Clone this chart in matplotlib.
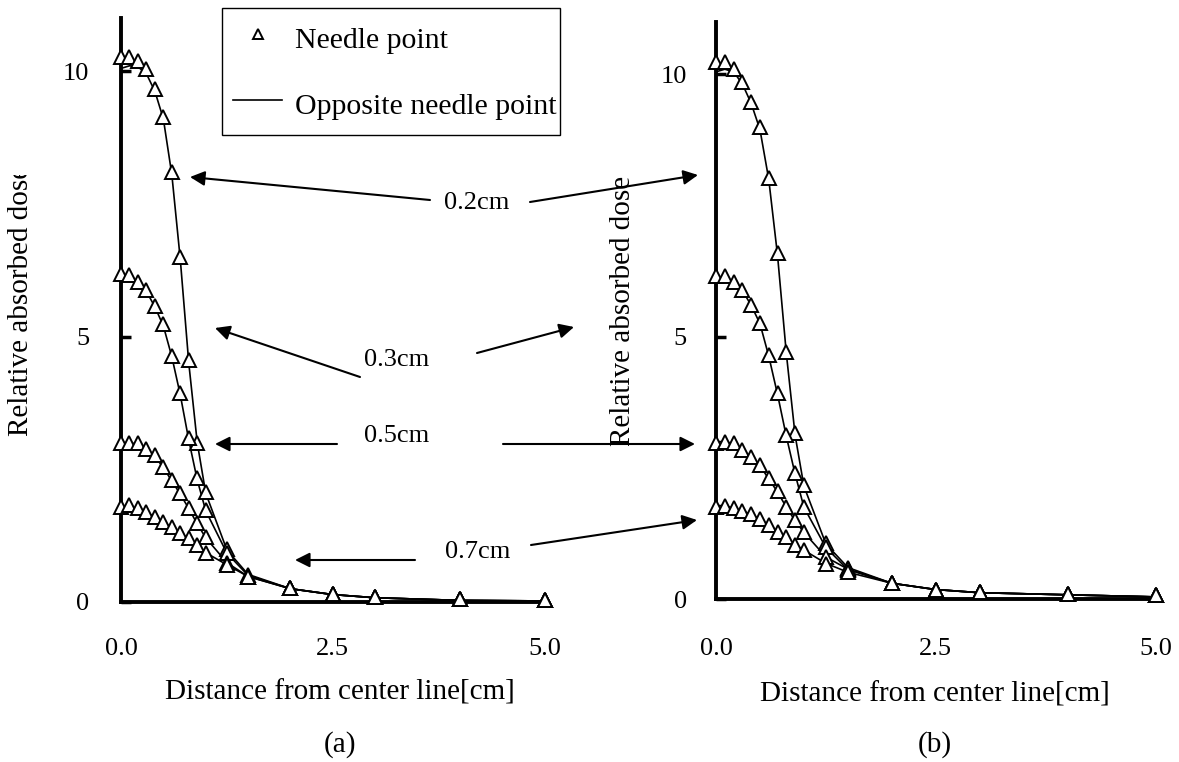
import matplotlib
matplotlib.use("Agg")
import matplotlib.pyplot as plt
from matplotlib.lines import Line2D
from matplotlib.patches import FancyArrowPatch
from matplotlib.transforms import Bbox, TransformedBbox

plt.rcParams['font.family'] = ['Liberation Serif', 'DejaVu Serif']

# ---------------- data ----------------
x = [0.0, 0.1, 0.2, 0.3, 0.4, 0.5, 0.6, 0.7, 0.8, 0.9, 1.0, 1.25, 1.5, 2.0, 2.5, 3.0, 4.0, 5.0]

# panel (a) needle point (triangles)
a_needle_02 = [10.26, 10.26, 10.19, 10.04, 9.66, 9.13, 8.09, 6.49, 4.55, 2.99, 2.07, 1.00, 0.50, 0.26, 0.15, 0.10, 0.05, 0.03]
a_needle_03 = [6.18, 6.15, 6.02, 5.87, 5.58, 5.24, 4.64, 3.93, 3.08, 2.33, 1.73, 0.92, 0.47, 0.26, 0.15, 0.10, 0.05, 0.03]
a_needle_05 = [2.99, 3.00, 2.99, 2.89, 2.76, 2.54, 2.29, 2.05, 1.77, 1.48, 1.22, 0.73, 0.47, 0.26, 0.15, 0.10, 0.05, 0.03]
a_needle_07 = [1.79, 1.82, 1.77, 1.69, 1.60, 1.50, 1.41, 1.30, 1.20, 1.07, 0.92, 0.70, 0.47, 0.26, 0.15, 0.10, 0.05, 0.03]
# panel (a) opposite needle point (lines)
a_opp_02 = [10.05, 10.10, 10.08, 9.95, 9.62, 9.10, 8.05, 6.45, 4.50, 3.00, 2.05, 0.98, 0.52, 0.25, 0.14, 0.08, 0.03, 0.02]
a_opp_03 = [6.12, 6.12, 6.00, 5.85, 5.56, 5.20, 4.62, 3.90, 3.05, 2.30, 1.72, 0.92, 0.50, 0.25, 0.14, 0.08, 0.03, 0.02]
a_opp_05 = [3.00, 3.00, 2.97, 2.88, 2.74, 2.53, 2.28, 2.03, 1.76, 1.47, 1.21, 0.74, 0.48, 0.25, 0.14, 0.08, 0.03, 0.02]
a_opp_07 = [1.80, 1.80, 1.76, 1.69, 1.60, 1.50, 1.40, 1.30, 1.19, 1.06, 0.93, 0.70, 0.48, 0.25, 0.14, 0.08, 0.03, 0.02]

# panel (b) needle point (triangles)
b_needle_02 = [10.23, 10.23, 10.10, 9.85, 9.48, 8.99, 8.03, 6.60, 4.71, 3.17, 2.18, 1.07, 0.60, 0.30, 0.17, 0.13, 0.10, 0.08]
b_needle_03 = [6.15, 6.15, 6.05, 5.90, 5.61, 5.27, 4.66, 3.93, 3.13, 2.40, 1.76, 1.00, 0.55, 0.30, 0.17, 0.13, 0.10, 0.08]
b_needle_05 = [2.98, 3.00, 2.98, 2.84, 2.71, 2.56, 2.30, 2.05, 1.76, 1.50, 1.28, 0.80, 0.58, 0.30, 0.17, 0.13, 0.10, 0.08]
b_needle_07 = [1.76, 1.78, 1.73, 1.68, 1.62, 1.53, 1.41, 1.28, 1.18, 1.03, 0.93, 0.67, 0.51, 0.30, 0.17, 0.13, 0.10, 0.08]
# panel (b) opposite needle point (lines)
b_opp_02 = [10.05, 10.10, 10.05, 9.82, 9.45, 8.95, 8.00, 6.55, 4.68, 3.12, 2.15, 1.05, 0.60, 0.30, 0.18, 0.12, 0.08, 0.04]
b_opp_03 = [6.12, 6.12, 6.03, 5.88, 5.60, 5.25, 4.63, 3.90, 3.10, 2.38, 1.75, 0.98, 0.56, 0.30, 0.18, 0.12, 0.08, 0.04]
b_opp_05 = [3.00, 3.00, 2.96, 2.84, 2.70, 2.54, 2.29, 2.04, 1.75, 1.49, 1.27, 0.80, 0.57, 0.30, 0.18, 0.12, 0.08, 0.04]
b_opp_07 = [1.78, 1.78, 1.73, 1.68, 1.61, 1.52, 1.41, 1.29, 1.17, 1.04, 0.93, 0.68, 0.51, 0.30, 0.18, 0.12, 0.08, 0.04]

x_ticks = [0.0, 2.5, 5.0]
x_tick_labels = ["0.0", "2.5", "5.0"]
y_ticks = [0, 5, 10]
y_tick_labels = ["0", "5", "10"]

depth_labels = ["0.2cm", "0.3cm", "0.5cm", "0.7cm"]
legend_labels = ["Needle point", "Opposite needle point"]
x_label = "Distance from center line[cm]"
y_label = "Relative absorbed dose"
panel_labels = ["(a)", "(b)"]

# ---------------- figure ----------------
W, H = 1179, 762
fig = plt.figure(figsize=(W / 100, H / 100), dpi=100)


def fx(px):
    return px / W


def fy(py):
    return 1 - py / H


FS_TICK = 19
FS_LAB = 21
FS_ANN = 19
FS_LEG = 21.5


def style_axes(ax, xmax, ypad, xpad):
    ax.set_xlim(0, xmax)
    ax.set_ylim(0, 11.0)
    for s in ['top', 'right']:
        ax.spines[s].set_visible(False)
    for s in ['left', 'bottom']:
        ax.spines[s].set_linewidth(2.8)
    ax.set_xticks(x_ticks)
    ax.set_xticklabels(x_tick_labels, fontsize=FS_TICK)
    ax.set_yticks(y_ticks)
    ax.set_yticklabels(y_tick_labels, fontsize=FS_TICK)
    ax.tick_params(axis='y', direction='in', length=7, width=2.5, pad=ypad)
    ax.tick_params(axis='x', length=0, pad=xpad)
    ax.patch.set_alpha(0)


def plot_panel(ax, needles, opps):
    for yn, yo in zip(needles, opps):
        ax.plot(x, yo, color='black', lw=1.2, zorder=2, clip_on=False)
        ax.plot(x, yn, linestyle='none', marker='^', ms=9.5, mfc='white',
                mec='black', mew=1.4, zorder=3, clip_on=False)


ax_a = fig.add_axes([fx(121), fy(602), fx(548 - 121), (602 - 18) / H])
ax_b = fig.add_axes([fx(716), fy(599), fx(1160 - 716), (599 - 22) / H])

plot_panel(ax_a, [a_needle_02, a_needle_03, a_needle_05, a_needle_07],
           [a_opp_02, a_opp_03, a_opp_05, a_opp_07])
plot_panel(ax_b, [b_needle_02, b_needle_03, b_needle_05, b_needle_07],
           [b_opp_02, b_opp_03, b_opp_05, b_opp_07])

style_axes(ax_a, 5.04, 23, 26)
style_axes(ax_b, 5.05, 21, 28)

# axis labels
fig.text(fx(340), fy(692), x_label, ha='center', va='center', fontsize=FS_LAB)
fig.text(fx(935), fy(694), x_label, ha='center', va='center', fontsize=FS_LAB)
fig.text(fx(340), fy(745), panel_labels[0], ha='center', va='center', fontsize=FS_LAB)
fig.text(fx(935), fy(745), panel_labels[1], ha='center', va='center', fontsize=FS_LAB)

yl_a = fig.text(fx(21), fy(301), y_label, rotation=90, ha='center', va='center', fontsize=FS_LAB)
yl_a.set_clip_box(TransformedBbox(Bbox([[0, 0], [1, fy(175)]]), fig.transFigure))
yl_a.set_clip_on(True)
fig.text(fx(623), fy(311), y_label, rotation=90, ha='center', va='center', fontsize=FS_LAB)

# legend
handles = [Line2D([], [], linestyle='none', marker='^', ms=7, mfc='white', mec='black', mew=1.4),
           Line2D([], [], color='black', lw=1.2)]
leg = fig.legend(handles, legend_labels, loc='upper left',
                 bbox_to_anchor=(fx(222), fy(157), fx(560 - 222), (157 - 8) / H),
                 mode='expand', borderaxespad=0, fontsize=FS_LEG, frameon=True,
                 fancybox=False, edgecolor='black', framealpha=1,
                 handlelength=1.64, handleheight=1.6, handletextpad=0.43,
                 labelspacing=0.94, borderpad=0.37)
leg.get_frame().set_linewidth(1.0)

# annotations (text + arrows into both panels)
arrow_kw = dict(arrowstyle='-|>', mutation_scale=22, lw=1.5, color='black',
                shrinkA=0, shrinkB=0)


def arrow(tail, head):
    fig.add_artist(FancyArrowPatch(
        (fx(tail[0]), fy(tail[1])), (fx(head[0]), fy(head[1])),
        transform=fig.transFigure, **arrow_kw))


label_pos = [(477, 203), (397, 360), (397, 436), (478, 552)]
arrows = [
    [((430, 200), (190, 177)), ((530, 202), (698, 175))],
    [((360, 377), (215, 328)), ((477, 353), (574, 327))],
    [((337, 444), (215, 444)), ((503, 444), (695, 444))],
    [((415, 560), (295, 560)), ((531, 545), (697, 520))],
]
for lab, pos, arrs in zip(depth_labels, label_pos, arrows):
    fig.text(fx(pos[0]), fy(pos[1]), lab, ha='center', va='center', fontsize=FS_ANN)
    for t, h in arrs:
        arrow(t, h)

fig.savefig("out.png", dpi=100)
